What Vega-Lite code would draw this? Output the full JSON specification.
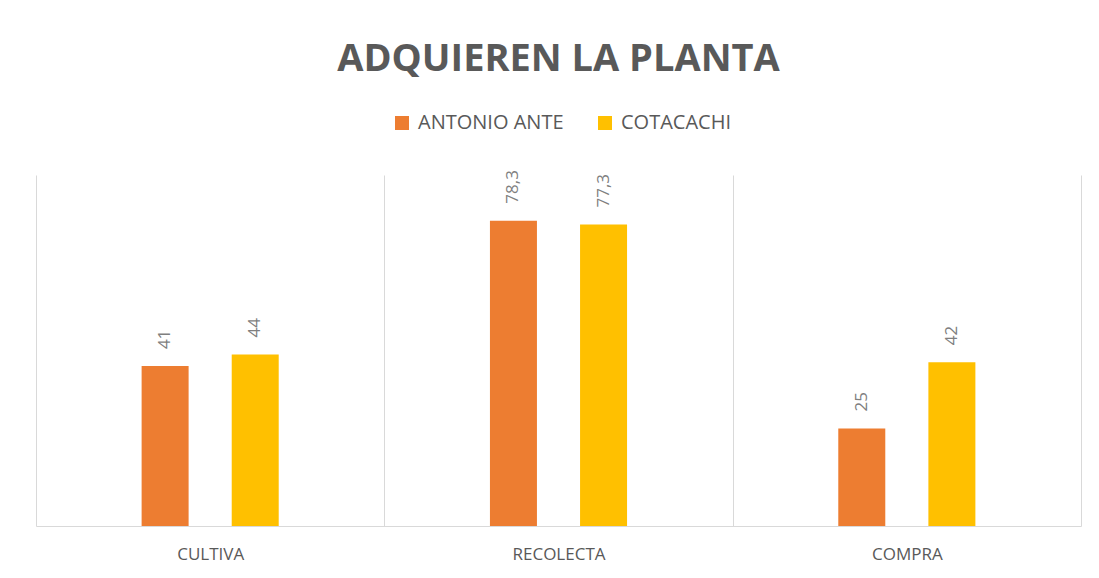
{
  "$schema": "https://vega.github.io/schema/vega-lite/v6.json",
  "width": 1045,
  "height": 351,
  "autosize": {"type": "none"},
  "padding": {"left": 36, "top": 175, "right": 18, "bottom": 52},
  "background": "white",
  "title": {
    "text": "ADQUIEREN LA PLANTA",
    "font": "Open Sans",
    "fontSize": 38,
    "fontWeight": "bold",
    "color": "#595959",
    "anchor": "middle",
    "offset": 34
  },
  "data": {
    "values": [
      {"cat": "CULTIVA", "serie": "ANTONIO ANTE", "valor": 41, "label": "41"},
      {"cat": "CULTIVA", "serie": "COTACACHI", "valor": 44, "label": "44"},
      {"cat": "RECOLECTA", "serie": "ANTONIO ANTE", "valor": 78.3, "label": "78,3"},
      {"cat": "RECOLECTA", "serie": "COTACACHI", "valor": 77.3, "label": "77,3"},
      {"cat": "COMPRA", "serie": "ANTONIO ANTE", "valor": 25, "label": "25"},
      {"cat": "COMPRA", "serie": "COTACACHI", "valor": 42, "label": "42"}
    ]
  },
  "encoding": {
    "x": {
      "field": "cat",
      "type": "nominal",
      "sort": ["CULTIVA", "RECOLECTA", "COMPRA"],
      "scale": {"paddingInner": 0, "paddingOuter": 0},
      "axis": {
        "title": null,
        "labelAngle": 0,
        "grid": true,
        "tickBand": "extent",
        "gridColor": "#d9d9d9",
        "ticks": false,
        "domainColor": "#d9d9d9",
        "labelFont": "Open Sans",
        "labelFontSize": 17,
        "labelColor": "#595959",
        "labelPadding": 20
      }
    },
    "xOffset": {
      "field": "serie",
      "type": "nominal",
      "sort": ["ANTONIO ANTE", "COTACACHI"],
      "scale": {"paddingInner": 0, "paddingOuter": 0.933}
    },
    "y": {
      "field": "valor",
      "type": "quantitative",
      "scale": {"domain": [0, 90]},
      "axis": null
    }
  },
  "layer": [
    {
      "mark": {"type": "bar", "width": 47},
      "encoding": {
        "color": {
          "field": "serie",
          "type": "nominal",
          "sort": ["ANTONIO ANTE", "COTACACHI"],
          "scale": {"range": ["#ED7D31", "#FFC000"]},
          "legend": {
            "title": null,
            "orient": "none",
            "legendX": 356,
            "legendY": -62,
            "direction": "horizontal",
            "symbolType": "square",
            "symbolSize": 196,
            "symbolStrokeWidth": 0,
            "labelFont": "Open Sans",
            "labelFontSize": 20,
            "labelColor": "#595959",
            "labelOffset": 6,
            "columnPadding": 31
          }
        }
      }
    },
    {
      "mark": {
        "type": "text",
        "angle": 270,
        "align": "left",
        "baseline": "middle",
        "dx": 17,
        "font": "Open Sans",
        "fontSize": 17,
        "color": "#7f7f7f"
      },
      "encoding": {"text": {"field": "label"}}
    }
  ],
  "config": {"view": {"stroke": null}}
}
